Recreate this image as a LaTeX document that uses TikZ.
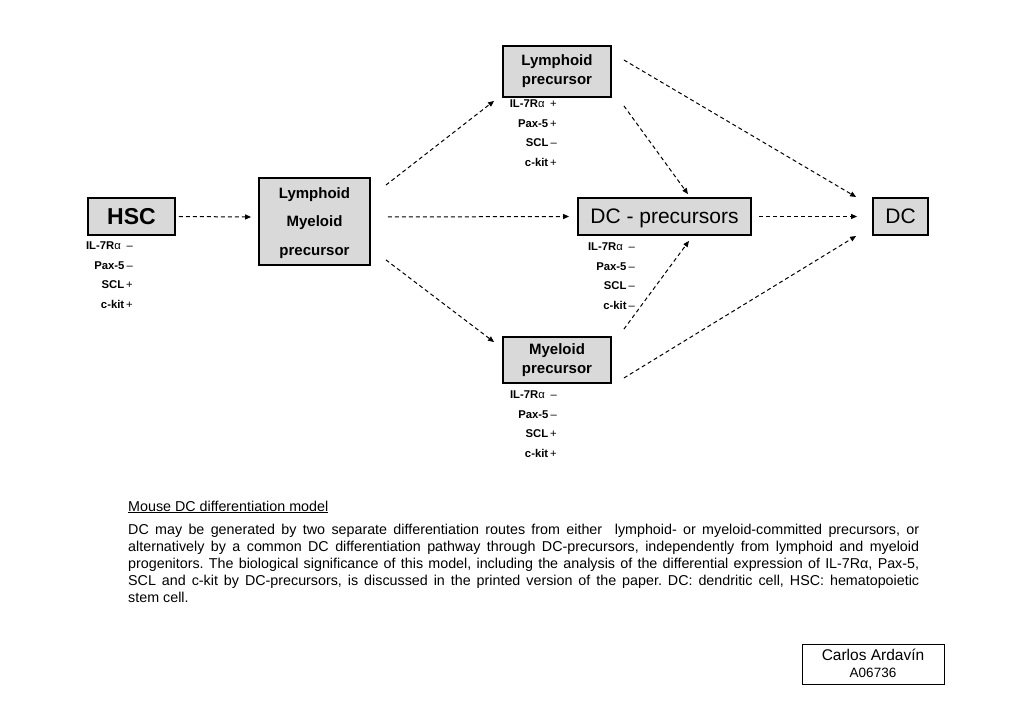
\documentclass[tikz,border=0pt]{standalone}
\usepackage{fontspec}
\setmainfont{Liberation Sans}
\usetikzlibrary{arrows.meta,calc}
\begin{document}
\frenchspacing
\begin{tikzpicture}[x=1pt,y=-1pt,
  cell/.style={draw=black, line width=1.8pt, fill=black!15, inner sep=0pt, align=center},
  bigbold/.style={font=\fontsize{23}{26}\selectfont\bfseries},
  bigreg/.style={font=\fontsize{21}{24}\selectfont},
  midbold/.style={font=\fontsize{15}{19}\selectfont\bfseries},
  marker/.style={anchor=east, inner sep=0pt, font=\fontsize{11.3}{13}\selectfont},
  arr/.style={dashed, dash pattern=on 4pt off 3pt, line width=1pt, -{Triangle[length=6pt,width=5pt]}}
]
\useasboundingbox (0,0) rectangle (1023,708);

\node[cell, bigbold, minimum width=87pt, minimum height=37pt] (hsc) at (131.5,216.5) {HSC};
\node[cell, midbold, minimum width=111pt, minimum height=87pt, font=\fontsize{15}{28.5}\selectfont\bfseries, text depth=0pt] (lm) at (314.5,221.5) {Lymphoid\\Myeloid\\precursor};
\node[cell, midbold, minimum width=108pt, minimum height=51pt] (lymph) at (557,71.5) {Lymphoid\\precursor};
\node[cell, bigreg, minimum width=173pt, minimum height=37pt, text depth=0pt] (dcp) at (664.5,216.5) {DC - precursors};
\node[cell, bigreg, minimum width=55pt, minimum height=37pt] (dc) at (900.5,216.5) {DC};
\node[cell, midbold, minimum width=108pt, minimum height=46pt] (myel) at (557,360) {Myeloid\\precursor};

% marker labels
\foreach \nm/\x/\y/\a/\b/\c/\d in {h/133/246/--/--/+/+, l/557/104/+/+/--/+, p/635/247/--/--/--/--, m/557/395/--/--/+/+}{
  \node[marker] (\nm a) at (\x,\y) {\textbf{IL-7R}α\enspace\a};
  \node[marker] (\nm b) at (\x,\y+19.5) {\textbf{Pax-5}\kern2pt\b};
  \node[marker] (\nm c) at (\x,\y+39) {\textbf{SCL}\kern2pt\c};
  \node[marker] (\nm d) at (\x,\y+58.5) {\textbf{c-kit}\kern2pt\d};
}

% arrows
\draw[arr] ($(hsc.east)+(3,0)$) -- ($(lm.west)+(-7,-4.5)$);
\draw[arr] ($(lm.north east)+(15,8)$) -- ($(lymph.south west)+(-8,3)$);
\draw[arr] ($(lm.east)+(17,-4.5)$) -- ($(dcp.west)+(-8,0)$);
\draw[arr] ($(lm.south east)+(15,-6)$) -- ($(myel.north west)+(-8,6)$);
\draw[arr] ($(lymph.south east)+(12,8)$) -- ($(dcp.north)+(23.5,-3)$);
\draw[arr] ($(lymph.east)+(12,-11.5)$) -- ($(dc.west)+(-16,-19.5)$);
\draw[arr] ($(dcp.east)+(7,0)$) -- ($(dc.west)+(-15,0)$);
\draw[arr] ($(myel.north east)+(12,-7)$) -- ($(dcp.south)+(24.5,5)$);
\draw[arr] ($(myel.east)+(12,18)$) -- ($(dc.west)+(-16,19.5)$);

% caption
\node[anchor=base west, inner sep=0pt, font=\fontsize{14.3}{17}\selectfont] (title) at (128,511) {\underline{Mouse DC differentiation model}};
\node[anchor=north west, inner sep=0pt, text width=791pt, align=justify, font=\fontsize{14.3}{17}\selectfont] (para) at (128,523.5) {DC may be generated by two separate differentiation routes from either \ lymphoid- or myeloid-committed precursors, or\linebreak alternatively by a common DC differentiation pathway through DC-precursors, independently from lymphoid and myeloid\linebreak progenitors. The biological significance of this model, including the analysis of the differential expression of IL-7Rα, Pax-5,\linebreak SCL and c-kit by DC-precursors, is discussed in the printed version of the paper. DC: dendritic cell, HSC: hematopoietic\linebreak stem cell.};

\node[draw=black, line width=1pt, minimum width=142pt, minimum height=40pt, inner sep=0pt] (auth) at (873,664) {};
\node[inner sep=0pt, font=\fontsize{15.5}{17}\selectfont] (authname) at (873,655) {Carlos Ardavín};
\node[inner sep=0pt, font=\fontsize{13.5}{14}\selectfont] (authid) at (873,673) {A06736};
\end{tikzpicture}
\end{document}
